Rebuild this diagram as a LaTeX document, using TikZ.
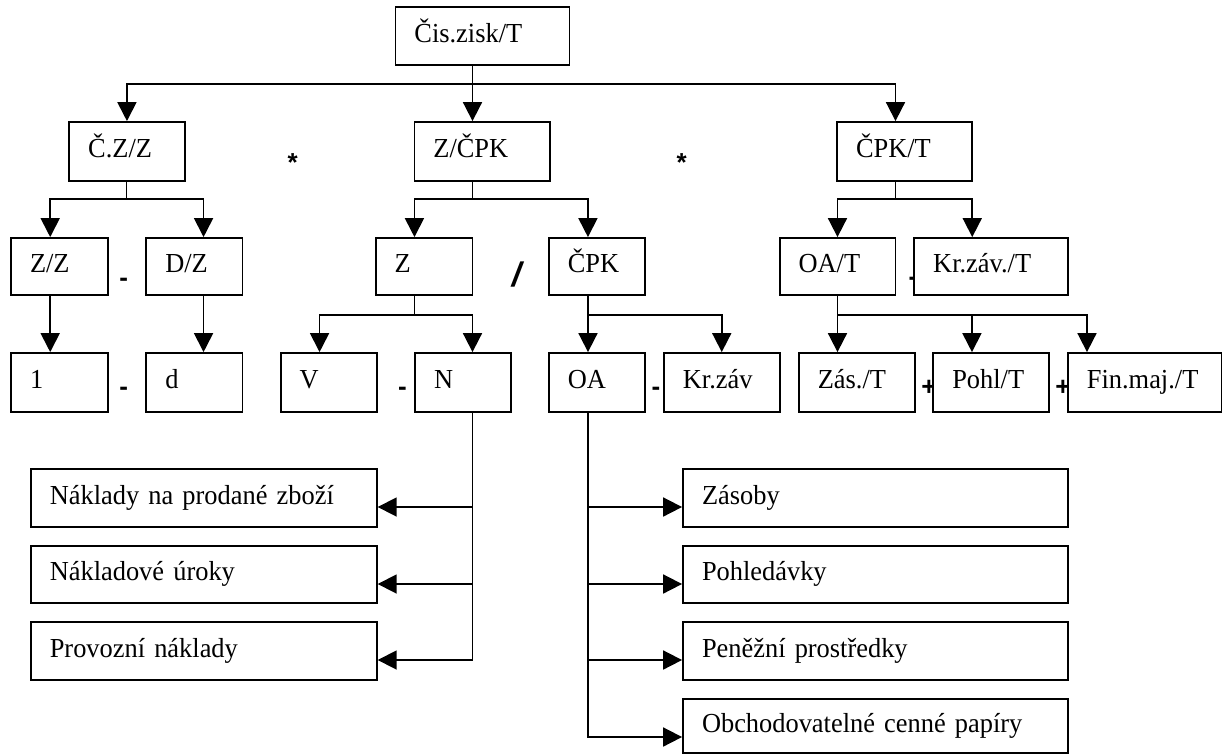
\documentclass[tikz,border=0pt]{standalone}
\usepackage{fontspec}
\setmainfont{Liberation Serif}[FakeStretch=0.96]
\newfontfamily\opsans{Liberation Sans}
\usetikzlibrary{arrows.meta}

% box from its corners: name, x1, y1, x2, y2, text (text set flush left)
\newcommand\bx[6]{%
  \pgfmathsetmacro\bxw{#4-#2}%
  \pgfmathsetmacro\bxh{#5-#3}%
  \pgfmathsetmacro\bxt{#4-#2-38}%
  \pgfmathsetmacro\bxcx{(#2+#4)/2}%
  \pgfmathsetmacro\bxcy{(#3+#5)/2}%
  \node[boxst, minimum width=\bxw pt, minimum height=\bxh pt, text width=\bxt pt]
    (#1) at (\bxcx,\bxcy) {#6};}

\begin{document}
\begin{tikzpicture}[x=1pt,y=-1pt,
  ln/.style={line width=1.8pt},
  arr/.style={ln,-{Triangle[width=19pt,length=19pt]}},
  boxst/.style={draw,line width=1.8pt,fill=white,rectangle,inner xsep=19pt,
    inner ysep=0pt,align=left,text height=16pt,text depth=4pt,
    font=\fontsize{27.5}{31}\selectfont},
  op/.style={font=\opsans\bfseries\fontsize{26}{30}\selectfont,inner sep=0pt}]
\useasboundingbox (0,0) rectangle (1226,755);

% operators between the boxes (partly covered by the boxes)
\node[op] (m1) at (292.6,162.5) {*};
\node[op] (m2) at (681.8,162.5) {*};
\node[op] (s1) at (123.8,282) {-};
\node[op] (s2) at (123.8,391) {-};
\node[op] (s3) at (402.5,391) {-};
\node[op] (s4) at (656,391) {-};
\node[op] (s5) at (913,281) {-};
\node[op,font=\opsans\bfseries\itshape\fontsize{34}{38}\selectfont] (dv) at (516.5,275) {/};
\node[op] (p1) at (929,387.5) {+};
\node[op] (p2) at (1063,387.5) {+};

% boxes
\bx{top}{395.4}{7}{569.4}{65}{Čis.zisk/T}
\bx{czz}{69.2}{122}{184.7}{181}{Č.Z/Z}
\bx{zcpk}{414.4}{122}{549.6}{181}{Z/ČPK}
\bx{cpkt}{837}{122}{972}{181}{ČPK/T}
\bx{zz}{11}{238}{108}{295}{Z/Z}
\bx{dz}{146.3}{238}{242.4}{295}{D/Z}
\bx{z}{375.6}{238}{472.5}{295}{Z}
\bx{cpk}{548.8}{238}{645.1}{295}{ČPK}
\bx{oat}{779.6}{238}{895.4}{295}{OA/T}
\bx{krzt}{914.2}{238}{1068.3}{295}{Kr.záv./T}
\bx{one}{11}{353}{108}{412}{1}
\bx{d}{146.3}{353}{242.4}{412}{d}
\bx{v}{280.7}{353}{376.8}{412}{V}
\bx{n}{415.2}{353}{511.2}{412}{N}
\bx{oa}{548.8}{353}{645.1}{412}{OA}
\bx{krz}{663.9}{353}{779.6}{412}{Kr.záv}
\bx{zast}{798.8}{353}{914.6}{412}{Zás./T}
\bx{pohlt}{933.3}{353}{1049}{412}{Pohl/T}
\bx{finm}{1067.9}{353}{1221.5}{412}{Fin.maj./T}
\bx{nak1}{30.8}{469}{376.8}{527}{Náklady na prodané zboží}
\bx{nak2}{30.8}{546}{376.8}{603}{Nákladové úroky}
\bx{nak3}{30.8}{622}{376.8}{680}{Provozní náklady}
\bx{zas}{683}{469}{1068.3}{527}{Zásoby}
\bx{poh}{683}{546}{1068.3}{603}{Pohledávky}
\bx{pen}{683}{622}{1068.3}{680}{Peněžní prostředky}
\bx{obch}{683}{699}{1068.3}{753}{Obchodovatelné cenné papíry}

% top level
\coordinate (j0) at (472.5,84);
\draw[arr] (j0 |- top.south) -- (j0 |- zcpk.north);
\draw[arr] (j0) -| (czz.north);
\draw[arr] (j0) -| ([xshift=-9pt]cpkt.north);

% second level
\coordinate (j1) at (126.5,199);
\draw[ln] (j1 |- czz.south) -- (j1);
\draw[arr] (j1) -| ([xshift=-9.3pt]zz.north);
\draw[arr] (j1) -| ([xshift=9.2pt]dz.north);
\coordinate (j2) at (472.5,199);
\draw[ln] (j2 |- zcpk.south) -- (j2);
\draw[arr] (j2) -| ([xshift=-9.6pt]z.north);
\draw[arr] (j2) -| ([xshift=-9pt]cpk.north);
\coordinate (j3) at (895.4,199);
\draw[ln] (j3 |- cpkt.south) -- (j3);
\draw[arr] (j3) -| (oat.north);
\draw[arr] (j3) -| ([xshift=-19pt]krzt.north);

% third level
\draw[arr] ([xshift=-9.3pt]zz.south) -- ([xshift=-9.3pt]one.north);
\draw[arr] ([xshift=9.2pt]dz.south) -- ([xshift=9.2pt]d.north);
\coordinate (j4) at (414.4,315);
\draw[ln] (j4 |- z.south) -- (j4);
\draw[arr] (j4) -| ([xshift=-9.2pt]v.north);
\draw[arr] (j4) -| ([xshift=9.3pt]n.north);
\coordinate (j5) at (588,315);
\draw[arr] (j5 |- cpk.south) -- (j5 |- oa.north);
\draw[arr] (j5) -| (krz.north);
\coordinate (j6) at (837.5,315);
\draw[arr] (j6 |- oat.south) -- (j6 |- zast.north);
\draw[arr] (j6) -| ([xshift=-19.2pt]pohlt.north);
\draw[arr] (j6) -| ([xshift=-57.7pt]finm.north);

% cost items under N
\coordinate (k1) at (472.5,507);
\coordinate (k2) at (472.5,584);
\coordinate (k3) at (472.5,660);
\draw[arr] (k3 |- n.south) -- (k3) -- (k3 -| nak3.east);
\draw[arr] (k1) -- (k1 -| nak1.east);
\draw[arr] (k2) -- (k2 -| nak2.east);

% current assets under OA
\coordinate (q1) at (588,507);
\coordinate (q2) at (588,584);
\coordinate (q3) at (588,660);
\coordinate (q4) at (588,737);
\draw[arr] (q4 |- oa.south) -- (q4) -- (q4 -| obch.west);
\draw[arr] (q1) -- (q1 -| zas.west);
\draw[arr] (q2) -- (q2 -| poh.west);
\draw[arr] (q3) -- (q3 -| pen.west);
\end{tikzpicture}
\end{document}
